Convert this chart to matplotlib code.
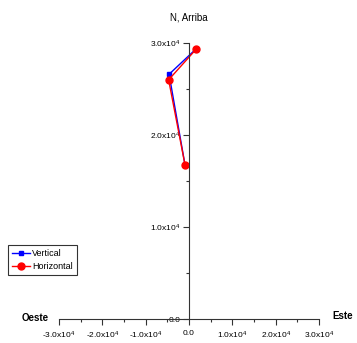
import matplotlib
matplotlib.use("Agg")
import matplotlib.pyplot as plt
from matplotlib.ticker import FixedLocator, FuncFormatter

plt.rcParams['font.family'] = ['Liberation Sans Narrow', 'Liberation Sans', 'DejaVu Sans']
plt.rcParams['mathtext.fontset'] = 'custom'
plt.rcParams['mathtext.rm'] = 'Liberation Sans'
plt.rcParams['mathtext.it'] = 'Liberation Sans'

# data (este, arriba)
vert_x = [-900, -4600, 1500]
vert_y = [16700, 26600, 29300]
horiz_x = [-900, -4700, 1600]
horiz_y = [16700, 26000, 29300]

major = [-30000, -20000, -10000, 0, 10000, 20000, 30000]
minor = [-25000, -15000, -5000, 5000, 15000, 25000]


def fmt(v, pos=None):
    if v == 0:
        return "0.0"
    return "%.1fx10$^{4}$" % (v / 1e4)


fig = plt.figure(figsize=(3.57, 3.43), dpi=100)
ax = fig.add_axes([59 / 357, 24 / 343, 260 / 357, 276 / 343])

ax.plot(vert_x, vert_y, color="blue", marker="s", markersize=3.5, lw=1, label="Vertical")
ax.plot(horiz_x, horiz_y, color="red", marker="o", markersize=5, lw=1, label="Horizontal")

ax.set_xlim(-30000, 30000)
ax.set_ylim(0, 30000)
ax.spines['left'].set_position(('data', 0))
ax.spines['bottom'].set_position(('data', 0))
ax.spines['top'].set_visible(False)
ax.spines['right'].set_visible(False)
for s in ['left', 'bottom']:
    ax.spines[s].set_linewidth(0.8)
    ax.spines[s].set_color('#333333')

ax.xaxis.set_major_locator(FixedLocator(major))
ax.xaxis.set_minor_locator(FixedLocator(minor))
ax.yaxis.set_major_locator(FixedLocator([0, 10000, 20000, 30000]))
ax.yaxis.set_minor_locator(FixedLocator([5000, 15000, 25000]))
ax.xaxis.set_major_formatter(FuncFormatter(fmt))
ax.yaxis.set_major_formatter(FuncFormatter(fmt))
ax.tick_params(which='major', length=4, width=0.8, labelsize=6, pad=2, color='#333333')
ax.tick_params(which='minor', length=2.5, width=0.8, color='#333333')
ax.tick_params(axis='x', which='both', direction='out', pad=4)

ax.set_title("N, Arriba", fontsize=7, pad=16)
fig.text(35 / 357, 1 - 318 / 343, "Oeste", fontsize=7, fontweight='bold', ha='center', va='center')
fig.text(343 / 357, 1 - 316 / 343, "Este", fontsize=7, fontweight='bold', ha='center', va='center')

leg = ax.legend(loc='lower left', bbox_to_anchor=(8 / 357, 68 / 343), bbox_transform=fig.transFigure,
                fontsize=6.5, frameon=True, fancybox=False, handlelength=2.0, borderpad=0.4,
                labelspacing=0.5, handletextpad=0.3, borderaxespad=0)
leg.get_frame().set_edgecolor('black')
leg.get_frame().set_linewidth(0.8)

fig.savefig("out.png", dpi=100)
